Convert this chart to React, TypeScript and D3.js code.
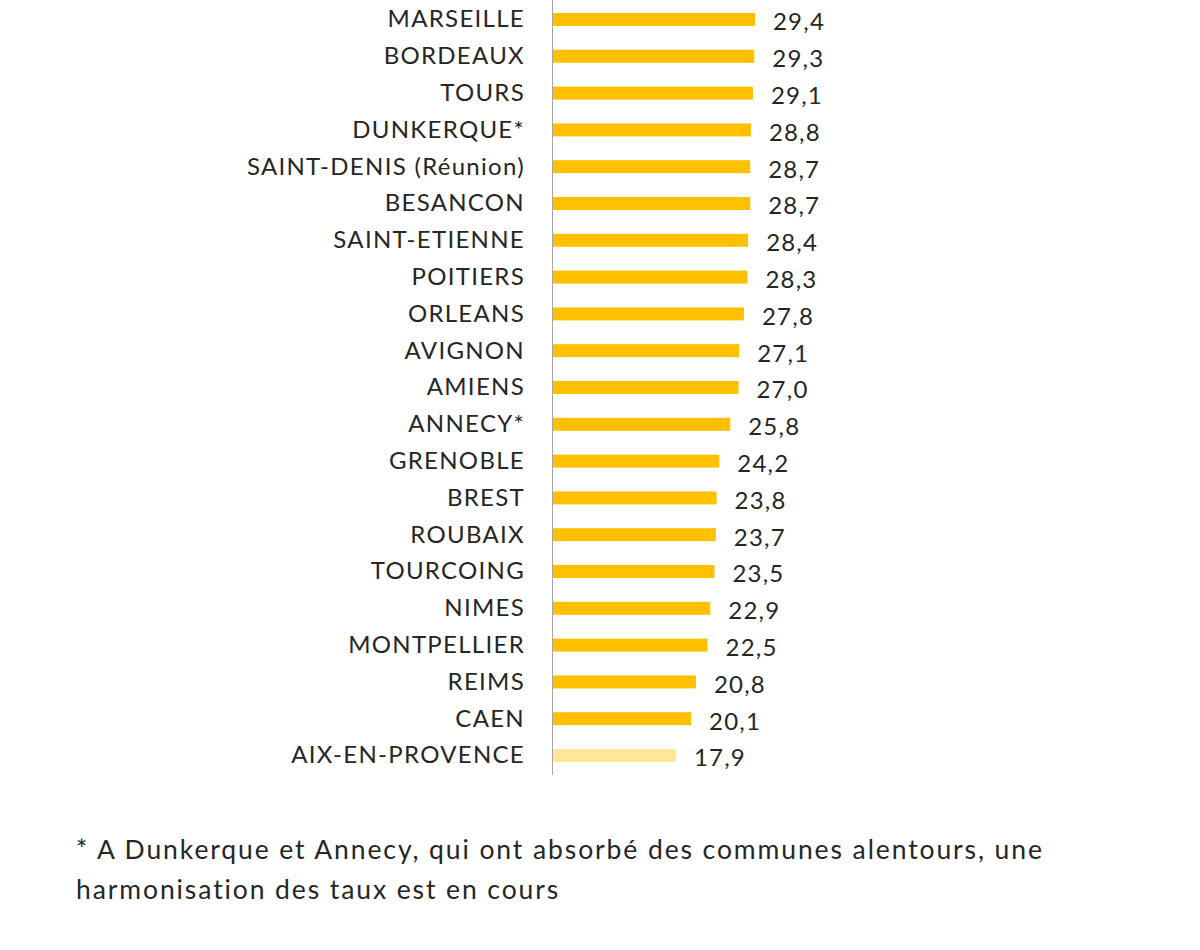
import React from "react";
import * as d3 from "d3";

const cities = [
  "MARSEILLE", "BORDEAUX", "TOURS", "DUNKERQUE*", "SAINT-DENIS (Réunion)", "BESANCON",
  "SAINT-ETIENNE", "POITIERS", "ORLEANS", "AVIGNON", "AMIENS", "ANNECY*", "GRENOBLE",
  "BREST", "ROUBAIX", "TOURCOING", "NIMES", "MONTPELLIER", "REIMS", "CAEN", "AIX-EN-PROVENCE",
];
const values = [
  29.4, 29.3, 29.1, 28.8, 28.7, 28.7, 28.4, 28.3, 27.8, 27.1, 27.0, 25.8, 24.2,
  23.8, 23.7, 23.5, 22.9, 22.5, 20.8, 20.1, 17.9,
];
const highlightLight = ["AIX-EN-PROVENCE"];
const footnoteLines = [
  "* A Dunkerque et Annecy, qui ont absorbé des communes alentours, une",
  "harmonisation des taux est en cours",
];

const FONT = "Lato, 'Noto Sans', sans-serif";

export default function App() {
  const W = 1200, H = 950;
  const x = d3.scaleLinear().domain([0, 29.4]).range([553, 755]);
  const y = d3.scaleBand<string>().domain(cities).range([0, 775]).paddingInner(0.647).paddingOuter(0.353);
  const fmt = (v: number) => d3.format(".1f")(v).replace(".", ",");
  return (
    <svg width={W} height={H} style={{ position: "absolute", left: 0, top: 0, background: "#fff" }}>
      {cities.map((c, i) => {
        const yy = y(c)!;
        const cy = yy + y.bandwidth() / 2;
        return (
          <g key={c}>
            <rect x={x(0)} y={yy} width={x(values[i]) - x(0)} height={y.bandwidth()}
              fill={highlightLight.includes(c) ? "#FFE699" : "#FFC000"} />
            <text x={525} y={cy - 0.5} dy="0.35em" textAnchor="end" fontFamily={FONT} fontSize={24} letterSpacing={1.3} fill="#262626">{c}</text>
            <text x={x(values[i]) + 18} y={cy + 2.5} dy="0.35em" textAnchor="start" fontFamily={FONT} fontSize={24} letterSpacing={1.2} fill="#262626">{fmt(values[i])}</text>
          </g>
        );
      })}
      <line x1={552.5} x2={552.5} y1={0} y2={775} stroke="#a6a6a6" strokeWidth={1} />
      {footnoteLines.map((t, i) => (
        <text key={i} x={76} y={859 + i * 39.5} fontFamily={FONT} fontSize={26.5} letterSpacing={1.9} fill="#262626">{t}</text>
      ))}
    </svg>
  );
}
